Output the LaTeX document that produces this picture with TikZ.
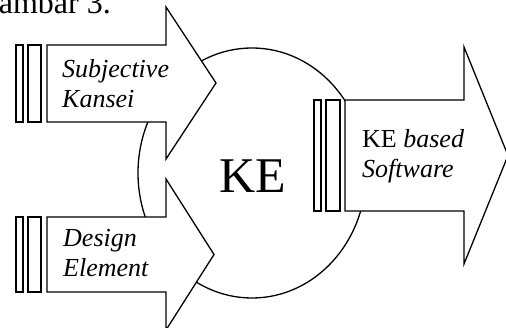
\documentclass[tikz,border=0pt]{standalone}
\usepackage{fontspec}
\setmainfont{Liberation Serif}
\tikzset{
  shapeline/.style={draw, fill=white, line width=1.3pt, line join=miter},
  inlabel/.style={anchor=base west, inner sep=0pt, align=left,
    font=\fontsize{26}{30}\selectfont\itshape},
}
\begin{document}
\begin{tikzpicture}[x=1pt,y=-1pt]
  \useasboundingbox (0,0) rectangle (506,328);
  \clip (0,0) rectangle (506,328);
  \node[anchor=base east, inner sep=0pt, font=\fontsize{32}{36}\selectfont]
    (caption) at (111,14) {Gambar 3.};
  % KE ellipse
  \draw[shapeline] (252,173) ellipse [x radius=114pt, y radius=125pt];
  \node[inner sep=0pt, anchor=base, font=\fontsize{50}{56}\selectfont]
    (ke) at (252.5,193) {KE};
  % input arrows
  \draw[shapeline] (47,45) -- (166,45) -- (166,7) -- (216,83) -- (166,159)
    -- (166,122) -- (47,122) -- cycle;
  \draw[shapeline] (16,45) rectangle (23,122);
  \draw[shapeline] (28,45) rectangle (41,122);
  \draw[shapeline] (47,217) -- (166,217) -- (166,179) -- (214,254.5)
    -- (166,330) -- (166,292) -- (47,292) -- cycle;
  \draw[shapeline] (16,217) rectangle (23,292);
  \draw[shapeline] (28,217) rectangle (41,292);
  % output arrow
  \draw[shapeline] (314,100) rectangle (321,211);
  \draw[shapeline] (326,100) rectangle (340,211);
  \draw[shapeline] (345,100) -- (464,100) -- (464,47) -- (508,155.5)
    -- (464,264) -- (464,211) -- (345,211) -- cycle;
  \node[inlabel] (subj) at (62,108) {Subjective\\Kansei};
  \node[inlabel] (design) at (63,277) {Design\\Element};
  \node[inlabel] (soft) at (362,178) {\upshape KE \itshape based\\Software};
\end{tikzpicture}
\end{document}
